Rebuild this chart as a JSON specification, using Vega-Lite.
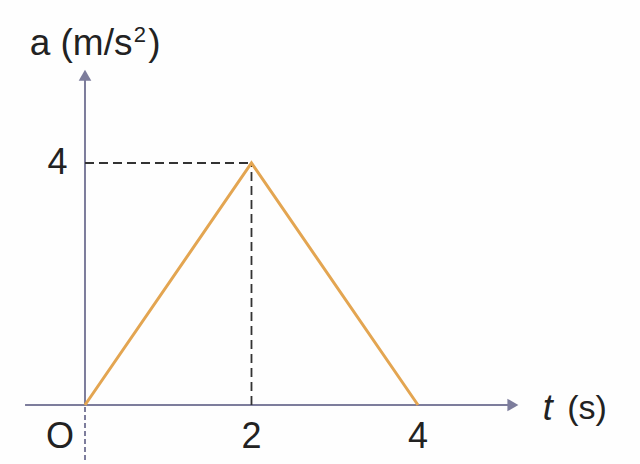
{
  "$schema": "https://vega.github.io/schema/vega-lite/v6.json",
  "width": 640,
  "height": 464,
  "autosize": {"type": "fit", "contains": "padding"},
  "padding": 0,
  "background": "#fefefe",
  "config": {"view": {"stroke": null}},
  "encoding": {
    "x": {"type": "quantitative", "scale": {"domain": [-1.021, 6.667], "nice": false, "zero": false}, "axis": null},
    "y": {"type": "quantitative", "scale": {"domain": [-0.975, 6.694], "nice": false, "zero": false}, "axis": null}
  },
  "layer": [
    {
      "data": {"values": [{"t": -0.72, "t2": 5.1, "a": 0, "a2": 0}, {"t": 0, "t2": 0, "a": 0, "a2": 5.4}]},
      "mark": {"type": "rule", "color": "#7d7d9c", "strokeWidth": 2},
      "encoding": {"x": {"field": "t"}, "x2": {"field": "t2"}, "y": {"field": "a"}, "y2": {"field": "a2"}}
    },
    {
      "data": {"values": [{"t": 0, "t2": 0, "a": -0.91, "a2": 0}]},
      "mark": {"type": "rule", "color": "#7d7d9c", "strokeWidth": 2, "strokeDash": [5, 3]},
      "encoding": {"x": {"field": "t"}, "x2": {"field": "t2"}, "y": {"field": "a"}, "y2": {"field": "a2"}}
    },
    {
      "data": {"values": [{"t": 0, "t2": 2, "a": 4, "a2": 4}, {"t": 2, "t2": 2, "a": 0, "a2": 4}]},
      "mark": {"type": "rule", "color": "#333333", "strokeWidth": 1.8, "strokeDash": [9, 5]},
      "encoding": {"x": {"field": "t"}, "x2": {"field": "t2"}, "y": {"field": "a"}, "y2": {"field": "a2"}}
    },
    {
      "data": {"values": [{"t": 0, "a": 0}, {"t": 2, "a": 4}, {"t": 4, "a": 0}]},
      "mark": {"type": "line", "color": "#e3a551", "strokeWidth": 3},
      "encoding": {"x": {"field": "t"}, "y": {"field": "a"}}
    },
    {
      "data": {"values": [{"t": 5.14, "a": 0}]},
      "mark": {"type": "point", "shape": "triangle-right", "filled": true, "color": "#7d7d9c", "size": 160, "opacity": 1},
      "encoding": {"x": {"field": "t"}, "y": {"field": "a"}}
    },
    {
      "data": {"values": [{"t": 0, "a": 5.45}]},
      "mark": {"type": "point", "shape": "triangle-up", "filled": true, "color": "#7d7d9c", "size": 160, "opacity": 1},
      "encoding": {"x": {"field": "t"}, "y": {"field": "a"}}
    },
    {
      "data": {"values": [
        {"t": -0.30, "a": -0.53, "label": "O"},
        {"t": 2, "a": -0.53, "label": "2"},
        {"t": 4, "a": -0.53, "label": "4"},
        {"t": -0.33, "a": 4, "label": "4"}
      ]},
      "mark": {"type": "text", "font": "Liberation Sans", "fontSize": 36, "color": "#222222", "align": "center", "baseline": "middle"},
      "encoding": {"x": {"field": "t"}, "y": {"field": "a"}, "text": {"field": "label"}}
    },
    {
      "data": {"values": [{"t": 5.56, "a": -0.06, "label": "t"}]},
      "mark": {"type": "text", "font": "Liberation Sans", "fontSize": 36, "fontStyle": "italic", "color": "#222222", "align": "center", "baseline": "middle"},
      "encoding": {"x": {"field": "t"}, "y": {"field": "a"}, "text": {"field": "label"}}
    },
    {
      "data": {"values": [{"t": 6.03, "a": -0.06, "label": "(s)"}]},
      "mark": {"type": "text", "font": "Liberation Sans", "fontSize": 34, "color": "#222222", "align": "center", "baseline": "middle"},
      "encoding": {"x": {"field": "t"}, "y": {"field": "a"}, "text": {"field": "label"}}
    },
    {
      "data": {"values": [{"t": 0.57, "a": 5.97, "label": "a (m/s"}]},
      "mark": {"type": "text", "font": "Liberation Sans", "fontSize": 37, "color": "#222222", "align": "right", "baseline": "middle"},
      "encoding": {"x": {"field": "t"}, "y": {"field": "a"}, "text": {"field": "label"}}
    },
    {
      "data": {"values": [{"t": 0.66, "a": 6.12, "label": "2"}]},
      "mark": {"type": "text", "font": "Liberation Sans", "fontSize": 22, "color": "#222222", "align": "center", "baseline": "middle"},
      "encoding": {"x": {"field": "t"}, "y": {"field": "a"}, "text": {"field": "label"}}
    },
    {
      "data": {"values": [{"t": 0.76, "a": 5.97, "label": ")"}]},
      "mark": {"type": "text", "font": "Liberation Sans", "fontSize": 37, "color": "#222222", "align": "left", "baseline": "middle"},
      "encoding": {"x": {"field": "t"}, "y": {"field": "a"}, "text": {"field": "label"}}
    }
  ]
}
